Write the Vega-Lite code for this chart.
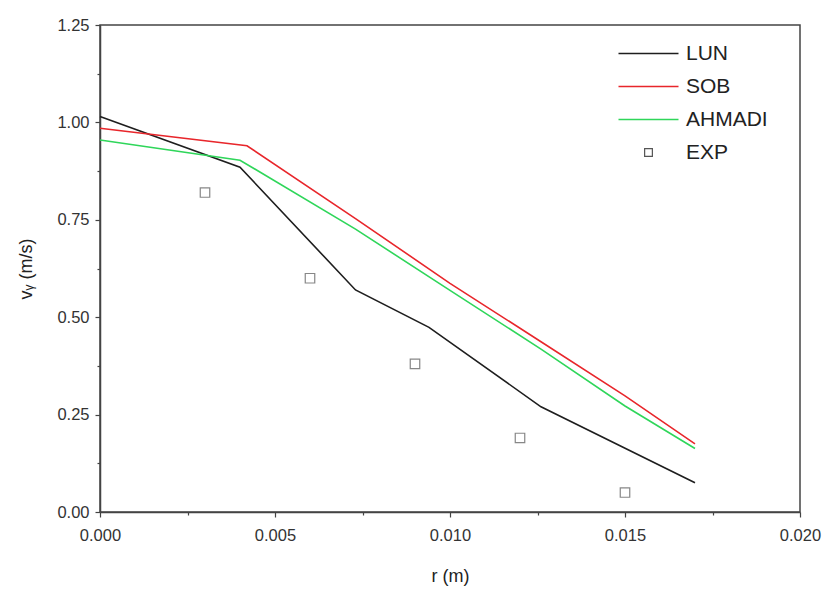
{
  "$schema": "https://vega.github.io/schema/vega-lite/v6.json",
  "autosize": "none",
  "width": 700,
  "height": 487,
  "padding": {"left": 100, "top": 25, "right": 34, "bottom": 82},
  "background": "white",
  "config": {
    "font": "Liberation Sans",
    "view": {"stroke": "#444", "strokeWidth": 1.5},
    "axis": {"grid": false, "domainColor": "#444", "domainWidth": 1.5, "tickColor": "#444", "tickWidth": 1.2, "labelColor": "#333", "titleColor": "#222", "labelFont": "Liberation Sans", "titleFont": "Liberation Sans", "labelFontSize": 16.5, "titleFontSize": 18, "titleFontWeight": "normal"}
  },
  "data": {
    "values": [
      {"series": "LUN", "r": 0.0, "v": 1.015},
      {"series": "LUN", "r": 0.0040, "v": 0.885},
      {"series": "LUN", "r": 0.0073, "v": 0.57},
      {"series": "LUN", "r": 0.0094, "v": 0.474},
      {"series": "LUN", "r": 0.0126, "v": 0.27},
      {"series": "LUN", "r": 0.0170, "v": 0.075},
      {"series": "SOB", "r": 0.0, "v": 0.985},
      {"series": "SOB", "r": 0.0042, "v": 0.94},
      {"series": "SOB", "r": 0.0073, "v": 0.753},
      {"series": "SOB", "r": 0.0100, "v": 0.587},
      {"series": "SOB", "r": 0.0126, "v": 0.437},
      {"series": "SOB", "r": 0.0150, "v": 0.298},
      {"series": "SOB", "r": 0.0170, "v": 0.175},
      {"series": "AHMADI", "r": 0.0, "v": 0.955},
      {"series": "AHMADI", "r": 0.0040, "v": 0.903},
      {"series": "AHMADI", "r": 0.0073, "v": 0.726},
      {"series": "AHMADI", "r": 0.0100, "v": 0.569},
      {"series": "AHMADI", "r": 0.0126, "v": 0.418},
      {"series": "AHMADI", "r": 0.0150, "v": 0.272},
      {"series": "AHMADI", "r": 0.0170, "v": 0.163},
      {"series": "EXP", "r": 0.003, "v": 0.82},
      {"series": "EXP", "r": 0.006, "v": 0.60},
      {"series": "EXP", "r": 0.009, "v": 0.38},
      {"series": "EXP", "r": 0.012, "v": 0.19},
      {"series": "EXP", "r": 0.015, "v": 0.05}
    ]
  },
  "resolve": {"axis": {"x": "independent", "y": "independent"}},
  "layer": [
    {
      "transform": [{"filter": "datum.series !== 'EXP'"}],
      "mark": {"type": "line", "strokeWidth": 1.6},
      "encoding": {
        "x": {"field": "r", "type": "quantitative", "scale": {"domain": [0, 0.02], "nice": false},
          "axis": {"orient": "bottom", "title": "r (m)", "values": [0, 0.005, 0.01, 0.015, 0.02], "format": ".3f", "tickSize": 5, "labelPadding": 10, "titlePadding": 24, "labelFlush": false}},
        "y": {"field": "v", "type": "quantitative", "scale": {"domain": [0, 1.25], "nice": false},
          "axis": {"orient": "left", "title": "vᵧ (m/s)", "values": [0, 0.25, 0.5, 0.75, 1.0, 1.25], "format": ".2f", "tickSize": 5, "labelPadding": 6, "titlePadding": 21}},
        "color": {"field": "series", "type": "nominal",
          "scale": {"domain": ["LUN", "SOB", "AHMADI", "EXP"], "range": ["#1e1e1e", "#e8262b", "#2fd65a", "#555555"]},
          "legend": {
            "title": null, "orient": "none", "legendX": 538, "legendY": 18, "padding": 0,
            "labelFontSize": 21, "labelColor": "#222", "labelFont": "Liberation Sans", "labelOffset": 27, "rowPadding": 11,
            "symbolStrokeWidth": 1.6,
            "encode": {"symbols": {"update": {
              "shape": {"signal": "datum.value === 'EXP' ? 'square' : 'stroke'"},
              "size": {"signal": "datum.value === 'EXP' ? 60 : 3600"},
              "strokeWidth": {"signal": "datum.value === 'EXP' ? 1.2 : 1.6"}
            }}}
          }},
        "detail": {"field": "series"}
      }
    },
    {
      "transform": [{"filter": "datum.series === 'EXP'"}],
      "mark": {"type": "point", "shape": "square", "filled": false, "size": 90, "strokeWidth": 1.2},
      "encoding": {
        "x": {"field": "r", "type": "quantitative", "axis": null},
        "y": {"field": "v", "type": "quantitative", "axis": null},
        "color": {"field": "series", "type": "nominal", "legend": null}
      }
    },
    {
      "transform": [{"filter": "datum.series === 'EXP'"}],
      "mark": {"type": "point", "opacity": 0},
      "encoding": {
        "x": {"field": "r", "type": "quantitative",
          "axis": {"orient": "bottom", "title": null, "labels": false, "domain": false, "values": [0.0025, 0.0075, 0.0125, 0.0175], "tickSize": 3}},
        "y": {"field": "v", "type": "quantitative",
          "axis": {"orient": "left", "title": null, "labels": false, "domain": false, "values": [0.125, 0.375, 0.625, 0.875, 1.125], "tickSize": 3}}
      }
    }
  ]
}
